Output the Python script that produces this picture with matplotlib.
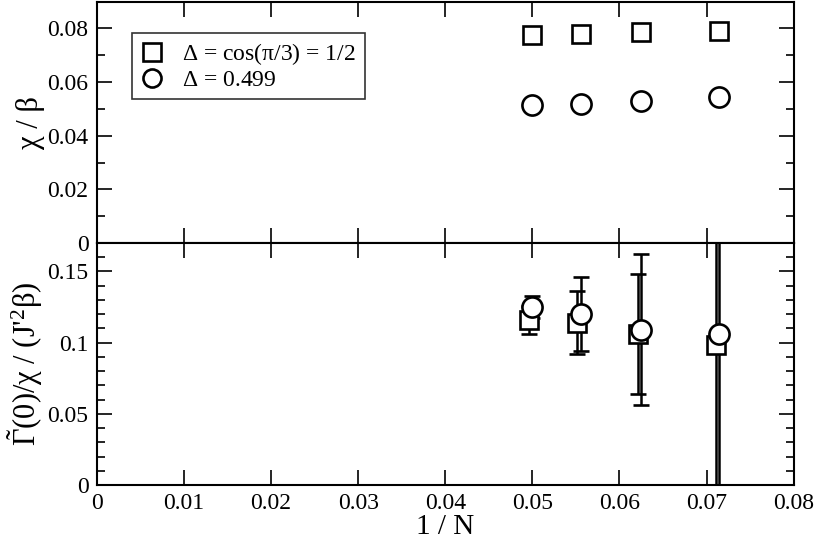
import numpy as np
import matplotlib.pyplot as plt
from matplotlib.ticker import MultipleLocator, FuncFormatter

plt.rcParams["font.family"] = ["Liberation Serif", "DejaVu Serif"]
plt.rcParams["mathtext.fontset"] = "custom"
plt.rcParams["mathtext.rm"] = "Liberation Serif"
plt.rcParams["mathtext.it"] = "Liberation Serif"
plt.rcParams["mathtext.bf"] = "Liberation Serif:bold"

# system sizes -> x = 1/N
N = np.array([20, 18, 16, 14])
inv_n = 1.0 / N

# top panel: chi / beta
chi_square = [0.0775, 0.0780, 0.0785, 0.0790]
chi_circle = [0.0515, 0.0520, 0.0530, 0.0543]

# bottom panel: Gamma(0)/chi/(J'^2 beta) with error bars
gam_square = [0.116, 0.114, 0.106, 0.098]
gam_square_err = [0.010, 0.022, 0.042, 0.300]
gam_circle = [0.125, 0.120, 0.109, 0.106]
gam_circle_err = [0.008, 0.026, 0.053, 0.300]

labels = [r"$\Delta$ = cos($\pi$/3) = 1/2", r"$\Delta$ = 0.499"]


def num_fmt(v, pos):
    return "0" if abs(v) < 1e-9 else f"{v:g}"


fig = plt.figure(figsize=(8.14, 5.43), dpi=100)
ax1 = fig.add_axes([0.119, 0.5525, 0.856, 0.4445])
ax2 = fig.add_axes([0.119, 0.1068, 0.856, 0.4457], sharex=ax1)

mk = dict(color="black", mfc="white", mec="black", mew=1.9, ls="none")

ax1.plot(inv_n, chi_square, marker="s", ms=13, label=labels[0], **mk)
ax1.plot(inv_n, chi_circle, marker="o", ms=14.5, label=labels[1], **mk)

dx = -0.0004  # squares sit slightly left in the lower panel
eb = dict(ecolor="black", elinewidth=1.8, capsize=6, capthick=2, **mk)
ax2.errorbar(inv_n + dx, gam_square, yerr=gam_square_err, marker="s", ms=13, **eb)
ax2.errorbar(inv_n, gam_circle, yerr=gam_circle_err, marker="o", ms=14.5, **eb)

ax1.set_xlim(0, 0.08)
ax1.set_ylim(0, 0.09)
ax2.set_ylim(0, 0.17)

for ax in (ax1, ax2):
    ax.xaxis.set_major_locator(MultipleLocator(0.01))
    ax.tick_params(which="both", direction="in", top=True, right=True,
                   labelsize=17, width=1.2)
    ax.tick_params(which="major", length=11, pad=6)
    ax.tick_params(which="minor", length=6)
    ax.yaxis.set_major_formatter(FuncFormatter(num_fmt))
    for s in ax.spines.values():
        s.set_linewidth(1.5)

ax1.yaxis.set_major_locator(MultipleLocator(0.02))
ax1.yaxis.set_minor_locator(MultipleLocator(0.01))
ax2.yaxis.set_major_locator(MultipleLocator(0.05))
ax2.yaxis.set_minor_locator(MultipleLocator(0.01))
ax2.xaxis.set_major_formatter(FuncFormatter(num_fmt))
ax1.tick_params(labelbottom=False)

ax1.set_ylabel("χ / β", fontsize=22, labelpad=2)
ax2.set_ylabel(r"$\tilde{\Gamma}$(0)/χ / (J'$^2$β)", fontsize=22, labelpad=2)
ax2.set_xlabel("1 / N", fontsize=21, labelpad=0)

leg = ax1.legend(loc="upper left", bbox_to_anchor=(0.05, 0.87), fontsize=17,
                 frameon=True, fancybox=False, edgecolor="black",
                 handlelength=1.0, handletextpad=0.8, borderpad=0.35,
                 labelspacing=0.1, borderaxespad=0)
leg.get_frame().set_linewidth(1.2)
for h in leg.legend_handles:
    h.set_markersize(13)

fig.savefig("out.png", dpi=100)
